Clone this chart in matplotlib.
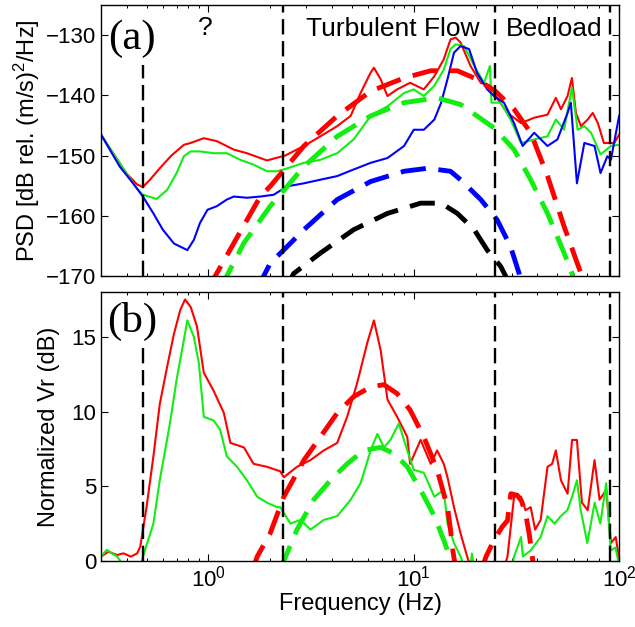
import matplotlib
matplotlib.use("Agg")
import matplotlib.pyplot as plt
import numpy as np

plt.rcParams["font.family"] = "Liberation Sans"
plt.rcParams["mathtext.fontset"] = "custom"
plt.rcParams["mathtext.rm"] = "Liberation Sans"
plt.rcParams["mathtext.default"] = "regular"

# ---------------- panel (a): PSD ----------------
a_red_f = [0.30, 0.35, 0.40, 0.45, 0.48, 0.52, 0.58, 0.66, 0.76, 0.82, 0.95, 1.10, 1.33, 1.54,
           1.93, 2.24, 2.33, 2.92, 3.51, 4.24, 4.93, 5.51, 6.17, 6.4, 6.9, 7.45, 8.3, 9.6,
           11.2, 12.6, 14.0, 15.1, 16.0, 16.9, 18.9, 21.2, 23.7, 25.0, 28.6, 33.3, 38.6,
           44.8, 49.2, 52.1, 56.1, 58.9, 61.6, 65.2, 70.3, 74.4, 78.8, 84.3, 94.7, 100]
a_red_db = [-146.5, -150.0, -153.0, -154.8, -155.2, -154.0, -152.1, -150.0, -148.2, -147.9,
            -147.1, -147.6, -149.0, -149.6, -150.8, -150.2, -150.1, -148.4, -146.8, -145.1,
            -143.4, -139.6, -136.2, -135.4, -137.3, -140.1, -139.0, -137.9, -139.0, -136.8,
            -134.0, -130.7, -130.4, -131.2, -135.1, -137.9, -138.4, -140.1, -142.9, -144.6,
            -143.7, -143.2, -140.4, -142.3, -140.1, -137.1, -142.9, -145.1, -144.0, -142.9,
            -144.6, -147.9, -147.9, -146.5]

a_green_f = [0.30, 0.35, 0.40, 0.45, 0.48, 0.56, 0.63, 0.70, 0.76, 0.82, 0.91, 1.06, 1.23, 1.43,
             1.66, 1.93, 2.16, 2.33, 2.92, 3.51, 4.24, 5.1, 6.17, 7.45, 8.97, 10.0, 11.2, 12.6,
             14.0, 15.1, 16.0, 17.6, 19.7, 22.0, 23.5, 23.9, 26.5, 29.6, 33.3, 38.6, 44.8,
             49.2, 54.0, 58.9, 62.8, 67.7, 73.0, 81.2, 91.2, 100]
a_green_db = [-146.5, -150.0, -153.0, -155.5, -156.5, -157.2, -155.7, -152.9, -150.1, -149.3,
              -149.3, -149.6, -149.6, -150.7, -151.5, -152.6, -152.6, -152.3, -151.2, -150.7,
              -149.6, -147.3, -143.4, -141.8, -139.6, -139.0, -140.1, -138.4, -135.7, -132.3,
              -131.5, -131.8, -135.1, -137.9, -135.1, -141.2, -141.2, -144.0, -147.9, -147.3,
              -146.8, -144.0, -145.7, -138.7, -145.7, -145.1, -146.2, -149.8, -148.4, -148.2]

a_blue_f = [0.30, 0.37, 0.43, 0.48, 0.54, 0.60, 0.68, 0.79, 0.85, 0.91, 0.99, 1.10, 1.23, 1.33,
            1.54, 1.79, 2.08, 2.42, 2.92, 3.51, 4.24, 5.1, 6.17, 7.45, 8.97, 10.0, 11.2, 12.6,
            13.6, 14.6, 15.7, 16.9, 18.6, 20.3, 22.8, 24.6, 27.5, 30.8, 33.9, 38.6, 44.8,
            50.1, 56.1, 58.2, 62.3, 67.7, 75.9, 81.2, 87.6, 91.2, 100]
a_blue_db = [-146.5, -151.8, -154.6, -156.8, -159.6, -162.3, -164.6, -165.7, -164.0, -161.2,
             -159.0, -158.4, -157.3, -156.8, -157.0, -156.8, -156.5, -155.1, -154.6, -154.0,
             -153.4, -152.3, -151.2, -150.4, -148.4, -145.7, -145.7, -144.0, -141.2, -137.3,
             -132.9, -131.8, -132.3, -136.2, -139.0, -140.1, -141.2, -144.6, -148.4, -146.2,
             -148.4, -147.3, -142.9, -141.2, -154.6, -147.9, -148.4, -152.9, -150.1, -150.7,
             -143.4]

# model fits (dashed)
a_red_fit_f = [1.0, 1.08, 1.79, 2.0, 2.92, 4.24, 6.17, 8.97, 12.1, 16.3, 20.3, 25.0, 30.8,
               37.1, 44.8, 54.0, 65.2, 68.0]
a_red_fit_db = [-172, -170, -156.8, -155.1, -148.4, -143.4, -139.3, -137.1, -135.9, -135.9,
                -137.3, -139.3, -142.3, -146.2, -153.4, -161.8, -169.6, -172]
a_green_fit_f = [1.15, 1.23, 1.49, 2.0, 2.42, 2.92, 4.24, 6.17, 8.97, 13.0, 16.9, 20.3, 24.6,
                 30.8, 37.1, 44.8, 54.0, 59.0, 61.0]
a_green_fit_db = [-172, -170, -164.5, -158.4, -155.1, -151.8, -146.8, -143.4, -141.2, -140.4,
                  -141.5, -143.4, -145.4, -149.0, -154.0, -159.6, -166.2, -169.6, -172]
a_blue_fit_f = [1.75, 1.86, 2.0, 2.42, 2.92, 4.24, 6.17, 8.97, 11.7, 15.1, 16.9, 21.2, 25.5,
                29.6, 32.6, 33.5]
a_blue_fit_db = [-172, -170, -167.9, -165.1, -162.3, -157.3, -154.3, -152.6, -152.1, -152.6,
                 -154.0, -157.3, -160.7, -165.1, -169.6, -172]
a_black_fit_f = [2.4, 2.6, 3.51, 5.1, 7.45, 10.8, 13.6, 16.3, 19.7, 22.8, 26.5, 28.0, 29.0]
a_black_fit_db = [-172, -169.6, -166.2, -162.3, -159.6, -157.9, -157.9, -159.6, -162.3,
                  -165.7, -168.4, -170, -172]

# ---------------- panel (b): normalized Vr ----------------
b_red_f = [0.30, 0.326, 0.36, 0.386, 0.42, 0.45, 0.466, 0.50, 0.54, 0.58, 0.63, 0.68, 0.73,
           0.77, 0.82, 0.88, 0.95, 1.06, 1.19, 1.28, 1.49, 1.66, 1.93, 2.24, 2.33, 2.7, 3.14,
           3.65, 4.24, 4.74, 5.3, 5.94, 6.4, 6.9, 7.45, 8.3, 9.3, 9.6, 10.8, 12.1, 13.0, 14.0,
           14.6, 15.7, 16.9, 18.2, 19.0, 27.5, 28.6, 30.8, 33.3, 35.0, 37.1, 39.0, 41.5, 44.8,
           47.2, 49.2, 52.1, 56.1, 59.0, 62.3, 65.9, 70.3, 75.9, 80.3, 86.5, 91.2, 96.3, 100]
b_red_db = [0.29, 0.62, 0.40, 0.51, 0.29, 0.51, 0.96, 3.6, 7.0, 10.5, 13.0, 15.2, 16.8, 17.5,
            17.0, 15.7, 12.6, 11.4, 9.9, 7.9, 7.6, 6.5, 6.3, 6.0, 5.6, 6.3, 6.75, 7.4, 7.9,
            9.65, 11.9, 14.6, 16.1, 14.1, 10.8, 9.65, 8.3, 6.5, 8.1, 6.5, 7.4, 6.5, 5.6, 3.6,
            1.85, 0.3, -0.5, -0.5, 0.3, 4.3, 4.3, 3.4, 3.6, 2.1, 2.75, 6.3, 6.5, 7.4, 5.4, 4.5,
            8.1, 8.1, 3.9, 3.4, 6.75, 4.1, 4.75, 1.2, 1.6, 0.1]

b_green_f = [0.30, 0.32, 0.36, 0.386, 0.47, 0.48, 0.54, 0.58, 0.65, 0.70, 0.76, 0.79, 0.85,
             0.90, 0.95, 1.06, 1.14, 1.23, 1.38, 1.54, 1.73, 1.93, 2.16, 2.24, 2.51, 2.81,
             3.14, 3.65, 4.24, 4.93, 5.51, 6.17, 6.65, 7.16, 7.7, 8.46, 9.3, 10.0, 11.2, 12.6,
             14.0, 14.6, 15.7, 16.9, 17.5, 18.9, 19.2, 19.6, 30.3, 30.8, 33.3, 34.0, 37.1,
             41.5, 44.8, 48.5, 52.0, 56.0, 59.0, 62.3, 65.0, 70.0, 76.0, 81.0, 86.5, 91.0,
             96.0, 100]
b_green_db = [0.29, 0.74, 0.29, -0.3, -0.3, 0.29, 2.5, 5.4, 9.2, 12.1, 14.8, 16.1, 15.0, 13.2,
              9.65, 9.4, 8.8, 7.0, 6.3, 5.4, 4.3, 3.9, 3.6, 3.6, 2.5, 2.75, 2.1, 2.75, 3.0, 4.1,
              5.2, 7.4, 8.5, 7.6, 8.1, 9.2, 7.4, 6.1, 5.9, 4.3, 4.75, 2.5, 1.2, 0.3, -0.3, -0.3,
              0.5, -0.3, -0.3, 0.3, 1.6, 0.3, 0.7, 1.6, 3.0, 2.5, 3.0, 3.4, 4.3, 5.4, 3.4, 1.2,
              3.9, 2.5, 5.2, 0.7, 0.9, -0.3]

b_red_fit_f = [1.65, 1.73, 2.0, 2.33, 2.92, 3.51, 4.24, 5.1, 6.17, 7.16, 8.3, 9.6, 11.2, 13.0,
               14.6, 15.1, 15.5, 16.0, np.nan, 21.5, 22.5, 24.6, 27.0, 28.6, 29.7, 31.9, 33.5,
               35.0, 36.5, 38.0, 38.5]
b_red_fit_db = [-0.5, 0.3, 1.85, 4.3, 6.75, 8.3, 9.9, 11.0, 11.65, 11.8, 11.2, 10.1, 8.3, 6.1,
                3.6, 2.1, 0.7, -0.5, np.nan, -0.5, 0.3, 1.4, 2.3, 2.7, 4.5, 4.4, 4.0, 3.2, 1.8,
                0.0, -0.5]
b_green_fit_f = [2.2, 2.33, 2.7, 3.26, 3.93, 4.74, 5.7, 6.9, 8.0, 9.3, 10.8, 12.6, 14.0, 15.1,
                 15.5]
b_green_fit_db = [-0.5, 0.0, 2.1, 4.1, 5.4, 6.5, 7.4, 7.6, 7.2, 6.3, 4.75, 3.0, 1.4, 0.1, -0.5]

# region boundaries (Hz)
bounds = [0.48, 2.32, 25, 90]

xlim = (0.3, 100)
red, green, blue = "#ff0000", "#11ee11", "#0000ff"

fig = plt.figure(figsize=(6.35, 6.27), dpi=100)
ax1 = fig.add_axes([0.159, 0.5598, 0.816, 0.432])
ax2 = fig.add_axes([0.159, 0.1053, 0.816, 0.429])

solid_lw = 1.5
fit_kw = dict(linewidth=3.5, dashes=(5.2, 2.6))
vline_kw = dict(color="black", linewidth=1.7, dashes=(6.5, 2.8))

# panel (a)
ax1.plot(a_red_f, a_red_db, color=red, lw=solid_lw)
ax1.plot(a_green_f, a_green_db, color=green, lw=solid_lw)
ax1.plot(a_blue_f, a_blue_db, color=blue, lw=solid_lw)
ax1.plot(a_red_fit_f, a_red_fit_db, color=red, **fit_kw)
ax1.plot(a_green_fit_f, a_green_fit_db, color=green, **fit_kw)
ax1.plot(a_blue_fit_f, a_blue_fit_db, color=blue, **fit_kw)
ax1.plot(a_black_fit_f, a_black_fit_db, color="black", **fit_kw)
ax1.plot([bounds[0], bounds[0]], [-170, -135], **vline_kw)
for b in bounds[1:]:
    ax1.plot([b, b], [-170, -125], **vline_kw)

ax1.set_xscale("log")
ax1.set_xlim(xlim)
ax1.set_ylim(-170, -125)
ax1.set_yticks([-170, -160, -150, -140, -130])
ax1.tick_params(labelbottom=False)
ax1.set_ylabel("PSD [dB rel. (m/s)$^2$/Hz]", fontsize=17, labelpad=3)
ax1.text(0.06, 0.875, "(a)", transform=ax1.transAxes, family="Liberation Serif",
         fontsize=31, ha="center", va="center")
ax1.text(0.97, -128.8, "?", fontsize=19, ha="center", va="center")
ax1.text(7.9, -129.0, "Turbulent Flow", fontsize=19, ha="center", va="center")
ax1.text(48.2, -129.0, "Bedload", fontsize=19, ha="center", va="center")

# panel (b)
ax2.plot(b_red_f, b_red_db, color=red, lw=solid_lw)
ax2.plot(b_green_f, b_green_db, color=green, lw=solid_lw)
ax2.plot(b_red_fit_f, b_red_fit_db, color=red, **fit_kw)
ax2.plot(b_green_fit_f, b_green_fit_db, color=green, **fit_kw)
ax2.plot([bounds[0], bounds[0]], [0, 14.3], **vline_kw)
for b in bounds[1:]:
    ax2.plot([b, b], [0, 18], **vline_kw)

ax2.set_xscale("log")
ax2.set_xlim(xlim)
ax2.set_ylim(0, 18)
ax2.set_yticks([0, 5, 10, 15])
ax2.set_xlabel("Frequency (Hz)", fontsize=17, labelpad=1)
ax2.set_ylabel("Normalized Vr (dB)", fontsize=17, labelpad=8)
ax2.text(0.06, 0.89, "(b)", transform=ax2.transAxes, family="Liberation Serif",
         fontsize=31, ha="center", va="center")

for ax in (ax1, ax2):
    ax.tick_params(which="both", direction="in", top=True, right=True, labelsize=16)
    ax.tick_params(which="major", length=5, width=0.8)
    ax.tick_params(which="minor", length=2.5, width=0.7)
    for s in ax.spines.values():
        s.set_linewidth(1.0)

fig.savefig("out.png", dpi=100)
